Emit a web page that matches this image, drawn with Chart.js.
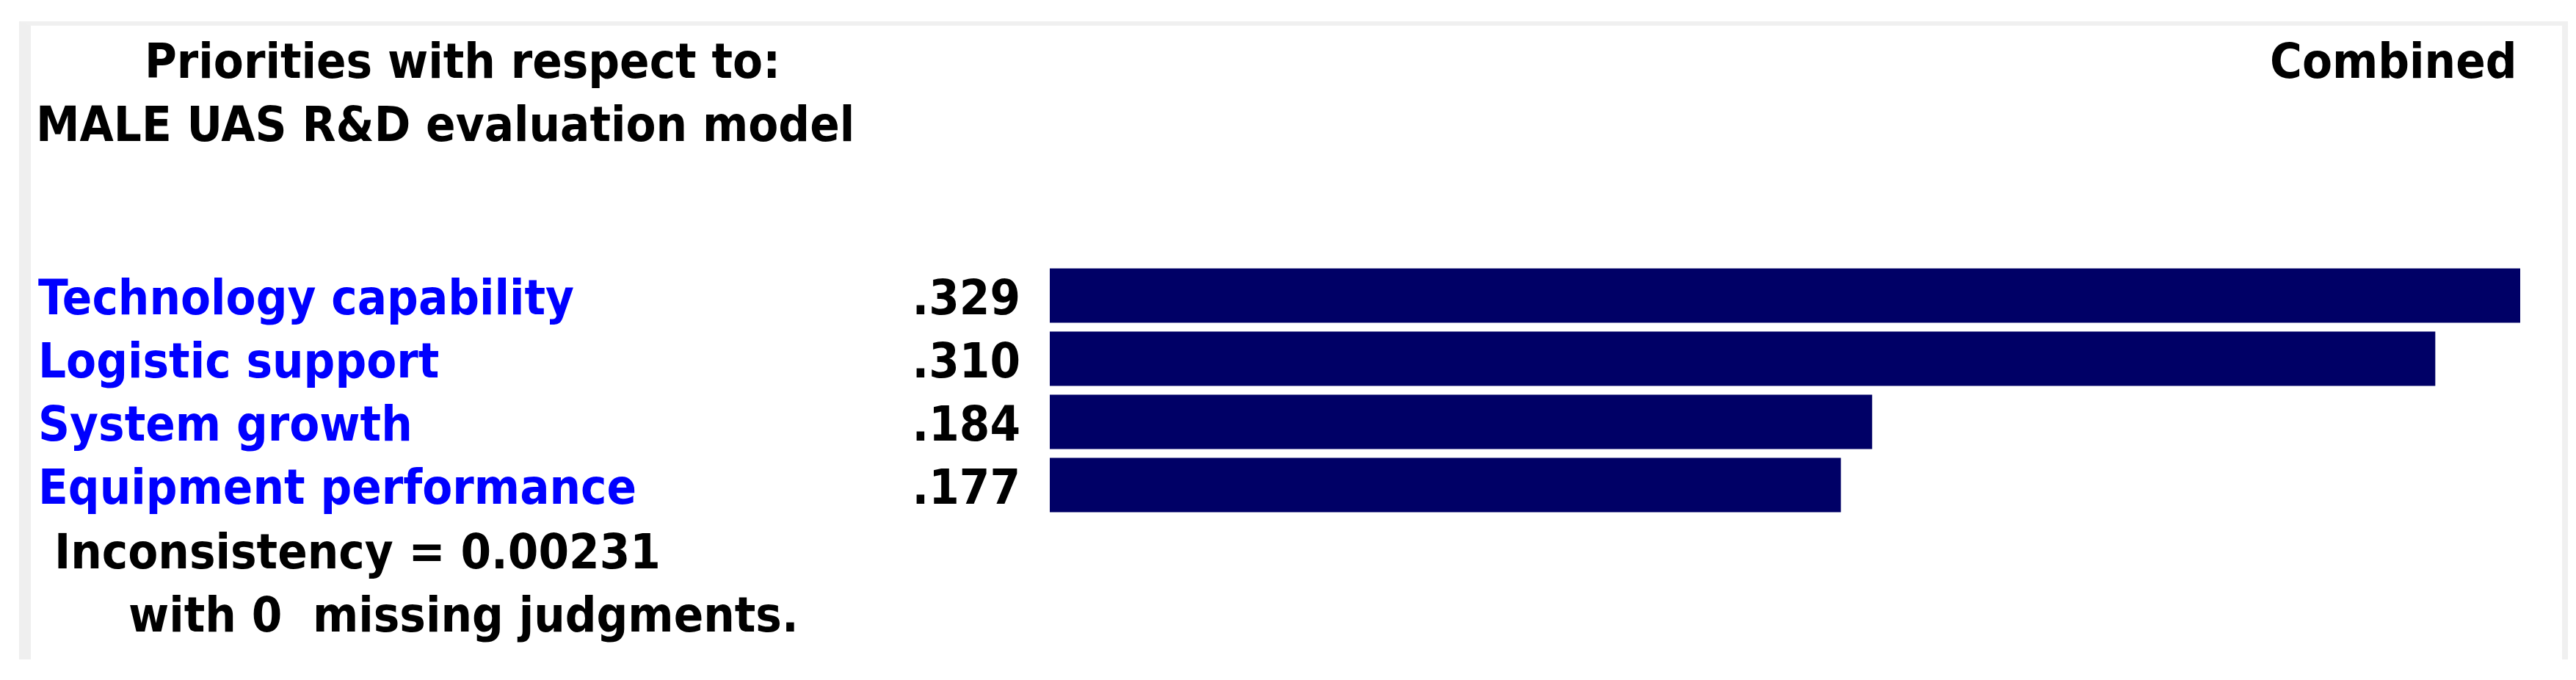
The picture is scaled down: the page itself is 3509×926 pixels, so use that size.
<!DOCTYPE html>
<html>
<head>
<meta charset="utf-8">
<script src="https://cdn.jsdelivr.net/npm/chart.js@4/dist/chart.umd.min.js"></script>
<style>
    body { margin: 0; background: #fff; width: 3509px; height: 926px; overflow: hidden; position: relative; }
    .frame { position: absolute; left: 26px; top: 29px; width: 3448px; height: 863px;
             border-left: 16px solid #efefef; border-top: 6px solid #f0f0f0; border-right: 8px solid #f0f0f0; }
    .txt { position: absolute; font-family: "DejaVu Sans", sans-serif; font-weight: bold; font-size: 65px;
           color: #000; white-space: pre; line-height: 1; transform-origin: 0 0; }
    #chartBox { position: absolute; left: 0; top: 0; width: 3509px; height: 926px; }
</style>
</head>
<body>
<div class="frame"></div>
<div class="txt" id="t1" style="left:197px; top:51px;">Priorities with respect to:</div>
<div class="txt" id="t2" style="left:49px; top:137px;">MALE UAS R&amp;D evaluation model</div>
<div class="txt" id="t3" style="left:3100px; top:51px;">Combined</div>
<div class="txt" id="t4" style="left:74px; top:719px;">Inconsistency = 0.00231</div>
<div class="txt" id="t5" style="left:175px; top:805px;">with 0  missing judgments.</div>
<div id="chartBox"><canvas id="prioChart"></canvas></div>

<script>
// Priorities data
const criteria = ['Technology capability', 'Logistic support', 'System growth', 'Equipment performance'];
const priorities = [0.329, 0.310, 0.184, 0.177];
const priorityLabels = ['.329', '.310', '.184', '.177'];

const SX = 0.92; // horizontal squeeze of the text

// squeeze html text
document.querySelectorAll('.txt').forEach(el => {
    el.style.transform = 'scaleX(' + SX + ')';
});
// right-align "Combined"
const comb = document.getElementById('t3');
comb.style.left = (3429 - comb.offsetWidth * SX) + 'px';

// draws criterion names and values next to each bar
const rowLabels = {
    id: 'rowLabels',
    afterDatasetsDraw(chart) {
        const ctx = chart.ctx;
        const meta = chart.getDatasetMeta(0);
        ctx.save();
        ctx.font = 'bold 65px "DejaVu Sans", sans-serif';
        ctx.textBaseline = 'alphabetic';
        meta.data.forEach((bar, i) => {
            const y = bar.y + 25;
            ctx.save();
            ctx.translate(52, y);
            ctx.scale(SX, 1);
            ctx.fillStyle = '#0000ff';
            ctx.textAlign = 'left';
            ctx.fillText(criteria[i], 0, 0);
            ctx.restore();

            ctx.save();
            ctx.translate(1390, y);
            ctx.scale(SX, 1);
            ctx.fillStyle = '#000';
            ctx.textAlign = 'right';
            ctx.fillText(priorityLabels[i], 0, 0);
            ctx.restore();
        });
        ctx.restore();
    }
};

new Chart(document.getElementById('prioChart'), {
    type: 'bar',
    data: {
        labels: criteria,
        datasets: [{
            data: priorities,
            backgroundColor: '#000066',
            borderWidth: 0,
            barPercentage: 0.86,
            categoryPercentage: 1
        }]
    },
    options: {
        indexAxis: 'y',
        responsive: true,
        maintainAspectRatio: false,
        animation: false,
        layout: {
            padding: { left: 1430, right: 76, top: 359.5, bottom: 222.5 }
        },
        plugins: {
            legend: { display: false },
            tooltip: { enabled: false }
        },
        scales: {
            x: { display: false, min: 0, max: Math.max(...priorities) },
            y: { display: false }
        }
    },
    plugins: [rowLabels]
});
</script>
</body>
</html>
